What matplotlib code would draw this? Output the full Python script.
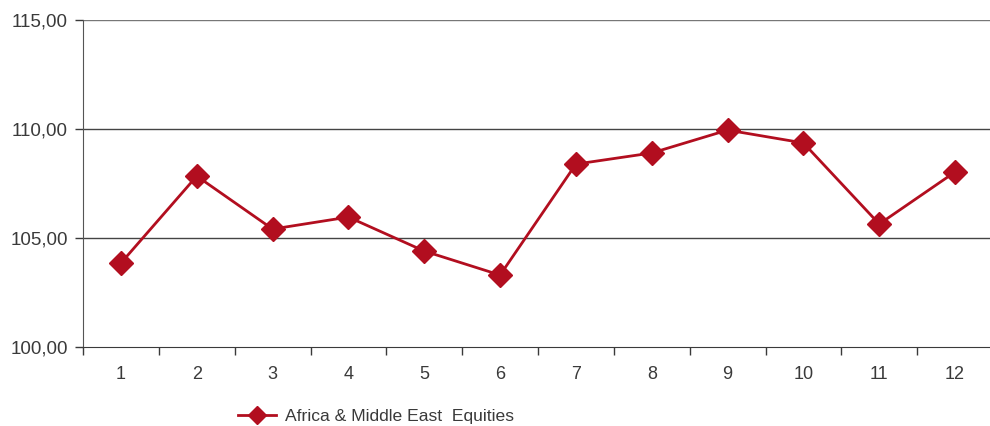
import matplotlib.pyplot as plt
import numpy as np

plt.rcParams['font.family'] = ['Liberation Sans', 'DejaVu Sans']

months = ['1', '2', '3', '4', '5', '6', '7', '8', '9', '10', '11', '12']
values = [103.85, 107.84, 105.41, 105.96, 104.40, 103.30,
          108.39, 108.90, 109.95, 109.36, 105.64, 108.03]
series_name = 'Africa & Middle East  Equities'

red = '#B20E1F'
grey = '#3a3a3a'

fig = plt.figure(figsize=(9.9, 4.26), dpi=100)
ax = fig.add_axes([83 / 990, 1 - 347 / 426, 910 / 990, 327 / 426])

x = np.arange(len(months))
ax.plot(x, values, color=red, lw=2.0, marker='D', ms=12, mec=red, mfc=red,
        label=series_name, zorder=3, clip_on=False)

ax.set_xlim(-0.5, len(months) - 0.5)
ax.set_ylim(100, 115)
ax.set_yticks([100, 105, 110, 115])
ax.set_yticklabels(['100,00', '105,00', '110,00', '115,00'])
ax.set_xticks(x)
ax.set_xticklabels(months)
ax.set_xticks(np.arange(len(months) + 1) - 0.5, minor=True)
ax.tick_params(axis='x', which='major', length=0, pad=14, labelsize=13, colors=grey)
ax.tick_params(axis='x', which='minor', length=6, width=1, color=grey)
ax.tick_params(axis='y', length=6, width=1, color=grey, labelsize=13.5, labelcolor=grey, pad=5)

for v in [105, 110, 115]:
    ax.axhline(v, color='#444444' if v < 115 else '#777777', lw=1, zorder=1)

for s in ['top', 'right']:
    ax.spines[s].set_visible(False)
ax.spines['left'].set_color('#555555')
ax.spines['bottom'].set_color(grey)

leg = fig.legend(loc='center', bbox_to_anchor=(376 / 990, 1 - 416 / 426), frameon=False,
                 fontsize=12.6, handlelength=2.2, handletextpad=0.5, markerscale=0.75)
for t in leg.get_texts():
    t.set_color(grey)

fig.savefig('out.png', dpi=100)
